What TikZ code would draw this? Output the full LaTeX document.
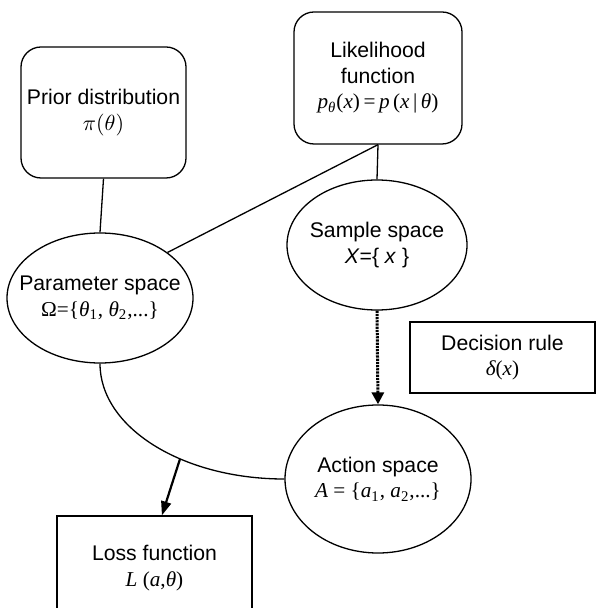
\documentclass[tikz,border=0pt]{standalone}
\usepackage{fontspec}
\setmainfont{Liberation Sans}
\newfontfamily\tms{Liberation Serif}
\usetikzlibrary{arrows.meta,shapes.geometric}
\newcommand{\ti}[1]{{\tms\itshape #1}}
\newcommand{\tu}[1]{{\tms #1}}
\begin{document}
\begin{tikzpicture}[x=0.5pt,y=-0.5pt,
  every node/.style={align=center,inner sep=0pt,font=\fontsize{10.6}{12.8}\selectfont},
  rbox/.style={draw,line width=0.65pt,rectangle,rounded corners=10pt},
  sbox/.style={draw,line width=0.65pt,rectangle},
  ell/.style={draw,line width=0.65pt,ellipse,inner sep=-40pt},
  conn/.style={line width=0.65pt},
  boldarrow/.style={line width=1.1pt,-{Triangle[length=7pt,width=5pt]}},
  dotarrow/.style={line width=1.5pt,dash pattern=on 1.1pt off 0.5pt,-{Triangle[length=6pt,width=6pt]}}]
\useasboundingbox (0,0) rectangle (597,608);
\begin{scope}
\clip (0,0) rectangle (597,608);
\node[rbox,minimum width=82.5pt,minimum height=65.5pt] (prior) at (103.5,112.5)
  {\raisebox{-2pt}{\parbox{80pt}{\centering Prior distribution\\$\pi(\theta)$}}};
\node[rbox,minimum width=84pt,minimum height=66pt] (lik) at (378,78)
  {Likelihood\\function\\\ti{p}\textsubscript{\ti{θ}}\tu{(}\ti{x}\tu{)\,=\,}\ti{p}\,\tu{(}\ti{x}\tu{\,|\,}\ti{θ}\tu{)}};
\node[ell,minimum width=93pt,minimum height=65pt] (param) at (100,298)
  {Parameter space\\\tu{Ω=\{}\ti{θ}\textsubscript{\tu{1}}\tu{, }\ti{θ}\textsubscript{\tu{2}}\tu{,...\}}};
\node[ell,minimum width=90pt,minimum height=65pt] (sample) at (377,245)
  {Sample space\\\textit{X}=\{ \textit{x} \}};
\node[ell,minimum width=93pt,minimum height=74pt] (action) at (378,479)
  {Action space\\\ti{A}\tu{ = \{}\ti{a}\textsubscript{\tu{1}}\tu{, }\ti{a}\textsubscript{\tu{2}}\tu{,...\}}};
\node[sbox,minimum width=92.5pt,minimum height=35.5pt] (dec) at (502.5,357.5)
  {\raisebox{-2pt}{\parbox{90pt}{\centering Decision rule\\\ti{δ}\tu{(}\ti{x}\tu{)}}}};
\node[sbox,minimum width=97.5pt,minimum height=52pt] (loss) at (154.5,568)
  {Loss function\\\ti{L}\tu{ (}\ti{a}\tu{,}\ti{θ}\tu{)}};
\end{scope}
\draw[conn] (prior.south) -- (param.north);
\draw[conn] (lik.south) -- (param.34);
\draw[conn] (lik.south) -- (sample.north);
\draw[dotarrow] (sample.south) -- (action.north);
\draw[conn] (param.south) .. controls +(0,64) and +(-102,0) .. (action.west)
  coordinate[pos=0.62] (mid);
\draw[boldarrow] (mid) -- (loss.82);
\end{tikzpicture}
\end{document}
